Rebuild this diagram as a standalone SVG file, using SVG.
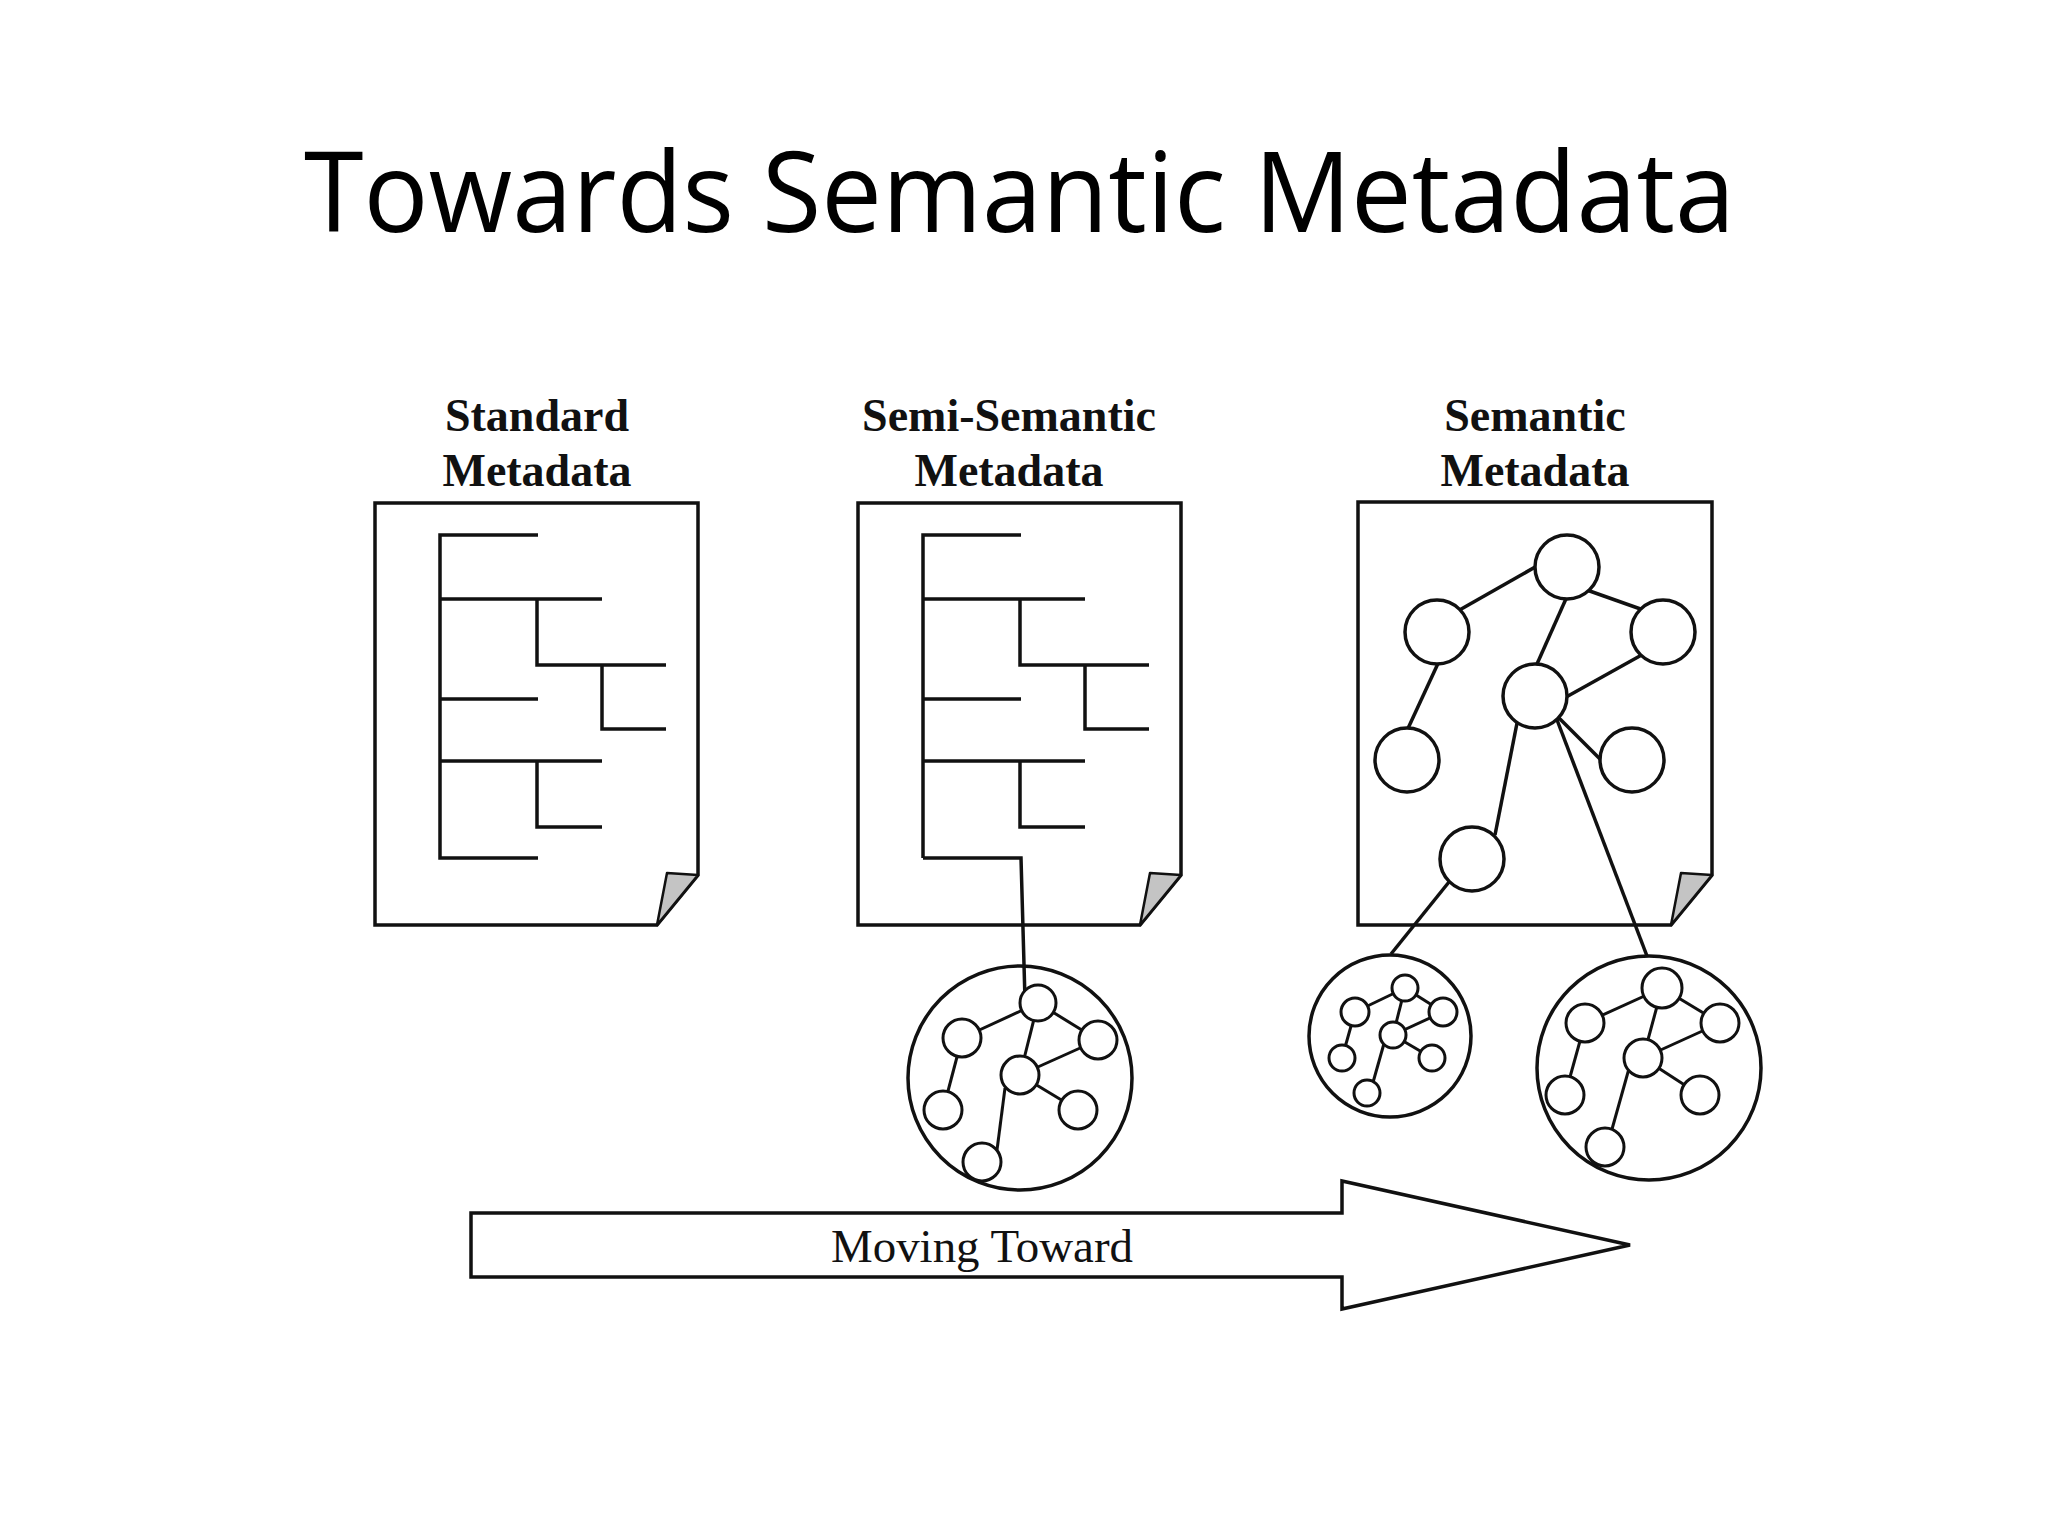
<svg xmlns="http://www.w3.org/2000/svg" width="2048" height="1536" viewBox="0 0 2048 1536">
<style>
.title{font-family:"Open Sans","Noto Sans","Liberation Sans",sans-serif;font-size:112px;fill:#000}
.lbl{font-family:"Liberation Serif","Times New Roman",serif;font-weight:bold;font-size:46px;fill:#111;text-anchor:middle}
.page{fill:#fff;stroke:#111;stroke-width:3.5;stroke-linejoin:miter}
.fold{fill:#c4c4c4;stroke:#111;stroke-width:2.5;stroke-linejoin:round}
.tree{fill:none;stroke:#111;stroke-width:3.5;stroke-linecap:butt;stroke-linejoin:miter}
.n{fill:#fff;stroke:#111;stroke-width:3.5}
.ns{fill:#fff;stroke:#111;stroke-width:3}
.big{fill:none;stroke:#111;stroke-width:3.5}
.e{stroke:#111;stroke-width:3.5;fill:none}
.es{stroke:#111;stroke-width:3;fill:none}
.arrow{fill:#fff;stroke:#111;stroke-width:3.5;stroke-linejoin:miter}
.mv{font-family:"Liberation Serif","Times New Roman",serif;font-size:46px;fill:#111;text-anchor:middle}
</style>
<rect width="2048" height="1536" fill="#fff"/>
<text class="title" x="304" y="232" textLength="1431" lengthAdjust="spacingAndGlyphs">Towards Semantic Metadata</text>

<g id="standard-metadata">
  <text class="lbl" x="537" y="431">Standard</text>
  <text class="lbl" x="537" y="486">Metadata</text>
  <path class="page" d="M375,503 H698 V875 L657,925 H375 Z"/>
  <polygon class="fold" points="667,873 698,875 657,925"/>
  <path class="tree" d="M538,535 H440 V858 H538 M440,599 H602 M440,699 H538 M440,761 H602 M537,599 V665 H666 M602,665 V729 H666 M537,761 V827 H602"/>
</g>

<g id="semi-semantic-metadata">
  <text class="lbl" x="1009" y="431">Semi-Semantic</text>
  <text class="lbl" x="1009" y="486">Metadata</text>
  <path class="page" d="M858,503 H1181 V875 L1140,925 H858 Z"/>
  <polygon class="fold" points="1150,873 1181,875 1140,925"/>
  <path class="tree" d="M1021,535 H923 V858 M923,599 H1085 M923,699 H1021 M923,761 H1085 M1020,599 V665 H1149 M1085,665 V729 H1149 M1020,761 V827 H1085"/>
</g>

<g id="semantic-metadata">
  <text class="lbl" x="1535" y="431">Semantic</text>
  <text class="lbl" x="1535" y="486">Metadata</text>
  <path class="page" d="M1358,502 H1712 V875 L1671,925 H1358 Z"/>
  <polygon class="fold" points="1681,873 1712,875 1671,925"/>
</g>

<g id="connectors">
  <path class="tree" d="M923,858 H1021 L1025,1000"/>
  <line class="e" x1="1544" y1="562" x2="1456" y2="612"/>
  <line class="e" x1="1584" y1="589" x2="1649" y2="612"/>
  <line class="e" x1="1569" y1="592" x2="1533" y2="673"/>
  <line class="e" x1="1441" y1="657" x2="1404" y2="737"/>
  <line class="e" x1="1647" y1="652" x2="1559" y2="701"/>
  <line class="e" x1="1553" y1="712" x2="1605" y2="764"/>
  <line class="e" x1="1518" y1="718" x2="1495" y2="835"/>
  <line class="e" x1="1554" y1="712" x2="1647" y2="956"/>
  <line class="e" x1="1453" y1="877" x2="1391" y2="954"/>
  <line class="es" x1="1038" y1="1003" x2="962" y2="1038"/>
  <line class="es" x1="1038" y1="1003" x2="1098" y2="1040"/>
  <line class="es" x1="1038" y1="1003" x2="1020" y2="1075"/>
  <line class="es" x1="962" y1="1038" x2="943" y2="1110"/>
  <line class="es" x1="1098" y1="1040" x2="1020" y2="1075"/>
  <line class="es" x1="1020" y1="1075" x2="1078" y2="1110"/>
  <line class="es" x1="1005" y1="1088" x2="997" y2="1150"/>
  <line class="es" x1="1405" y1="988" x2="1355" y2="1012"/>
  <line class="es" x1="1405" y1="988" x2="1443" y2="1012"/>
  <line class="es" x1="1405" y1="988" x2="1393" y2="1035"/>
  <line class="es" x1="1355" y1="1012" x2="1342" y2="1058"/>
  <line class="es" x1="1443" y1="1012" x2="1393" y2="1035"/>
  <line class="es" x1="1393" y1="1035" x2="1432" y2="1058"/>
  <line class="es" x1="1385" y1="1040" x2="1370" y2="1093"/>
  <line class="es" x1="1662" y1="988" x2="1585" y2="1023"/>
  <line class="es" x1="1662" y1="988" x2="1720" y2="1023"/>
  <line class="es" x1="1662" y1="988" x2="1643" y2="1058"/>
  <line class="es" x1="1585" y1="1023" x2="1565" y2="1095"/>
  <line class="es" x1="1720" y1="1023" x2="1643" y2="1058"/>
  <line class="es" x1="1643" y1="1058" x2="1700" y2="1095"/>
  <line class="es" x1="1630" y1="1065" x2="1607" y2="1147"/>
</g>

<g id="semantic-graph">
  <circle class="n" cx="1567" cy="567" r="32"/>
  <circle class="n" cx="1437" cy="632" r="32"/>
  <circle class="n" cx="1663" cy="632" r="32"/>
  <circle class="n" cx="1535" cy="696" r="32"/>
  <circle class="n" cx="1407" cy="760" r="32"/>
  <circle class="n" cx="1632" cy="760" r="32"/>
  <circle class="n" cx="1472" cy="859" r="32"/>
</g>

<g id="semi-semantic-cluster">
  <circle class="big" cx="1020" cy="1078" r="112"/>
  <circle class="ns" cx="1038" cy="1003" r="18"/>
  <circle class="ns" cx="962" cy="1038" r="19"/>
  <circle class="ns" cx="1098" cy="1040" r="19"/>
  <circle class="ns" cx="1020" cy="1075" r="19"/>
  <circle class="ns" cx="943" cy="1110" r="19"/>
  <circle class="ns" cx="1078" cy="1110" r="19"/>
  <circle class="ns" cx="982" cy="1162" r="19"/>
</g>

<g id="semantic-cluster-left">
  <circle class="big" cx="1390" cy="1036" r="81"/>
  <circle class="ns" cx="1405" cy="988" r="13"/>
  <circle class="ns" cx="1355" cy="1012" r="14"/>
  <circle class="ns" cx="1443" cy="1012" r="14"/>
  <circle class="ns" cx="1393" cy="1035" r="13"/>
  <circle class="ns" cx="1342" cy="1058" r="13"/>
  <circle class="ns" cx="1432" cy="1058" r="13"/>
  <circle class="ns" cx="1367" cy="1093" r="13"/>
</g>

<g id="semantic-cluster-right">
  <circle class="big" cx="1649" cy="1068" r="112"/>
  <circle class="ns" cx="1662" cy="988" r="20"/>
  <circle class="ns" cx="1585" cy="1023" r="19"/>
  <circle class="ns" cx="1720" cy="1023" r="19"/>
  <circle class="ns" cx="1643" cy="1058" r="19"/>
  <circle class="ns" cx="1565" cy="1095" r="19"/>
  <circle class="ns" cx="1700" cy="1095" r="19"/>
  <circle class="ns" cx="1605" cy="1147" r="19"/>
</g>

<g id="moving-toward">
  <polygon class="arrow" points="471,1213 1342,1213 1342,1181 1630,1245 1342,1309 1342,1277 471,1277"/>
  <text class="mv" x="982" y="1262" textLength="302" lengthAdjust="spacingAndGlyphs">Moving Toward</text>
</g>
</svg>
